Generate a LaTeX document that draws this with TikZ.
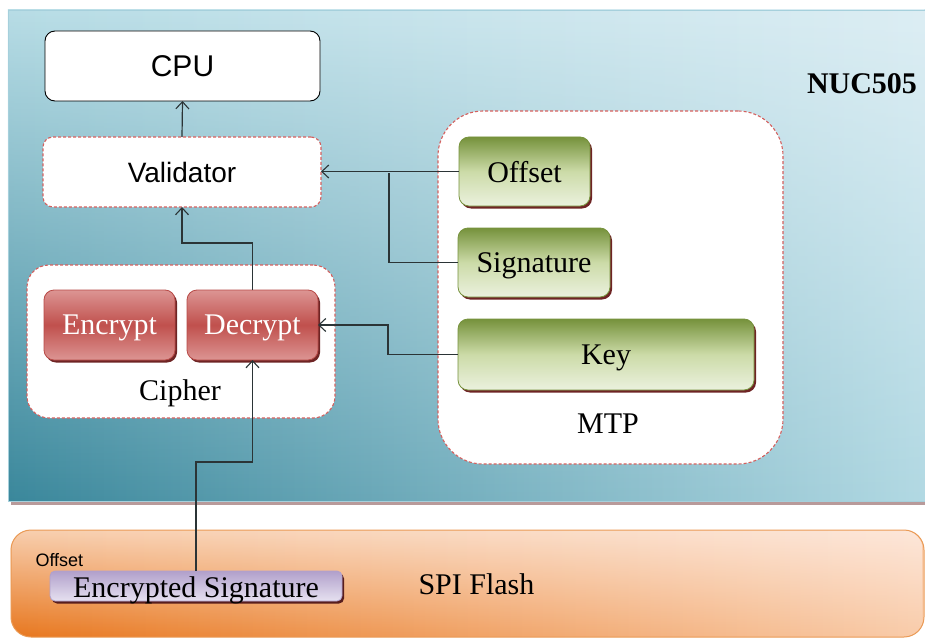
\documentclass[tikz,border=0pt]{standalone}
\usepackage{fontspec}
\setmainfont{Liberation Serif}
\newfontfamily\arialf{Liberation Sans}
\usetikzlibrary{shadows,arrows.meta,calc,fadings}
\definecolor{blueBL}{HTML}{3A879B}
\definecolor{blueBM}{HTML}{7DB8C9}
\definecolor{blueBR}{HTML}{B2D9E3}
\definecolor{blueTL}{HTML}{B8DDE6}
\definecolor{blueTR}{HTML}{DDEEF4}
\definecolor{blueedge}{HTML}{A6D0DC}
\definecolor{orBL}{HTML}{E8771E}
\definecolor{orBM}{HTML}{F5BE92}
\definecolor{orBR}{HTML}{F9CCAA}
\definecolor{orTL}{HTML}{F8CFAF}
\definecolor{orTR}{HTML}{FDE7DA}
\definecolor{oredge}{HTML}{EA9A55}
\definecolor{dashred}{HTML}{D4605E}
\definecolor{grdark}{HTML}{76923C}
\definecolor{grmid}{HTML}{CCDBA8}
\definecolor{grlight}{HTML}{EBF1DE}
\definecolor{rdlight}{HTML}{DC9593}
\definecolor{rddark}{HTML}{C0504D}
\definecolor{rdedge}{HTML}{B84A47}
\definecolor{pudark}{HTML}{B1A0CB}
\definecolor{pulight}{HTML}{E6E1F0}
\definecolor{shadowred}{HTML}{6E2424}
\definecolor{bgshadow}{HTML}{B89A9A}
\definecolor{linec}{HTML}{2B3436}
\tikzset{
  serif30/.style={font=\fontsize{30}{36}\selectfont},
  dashbox/.style={draw=dashred, dash pattern=on 3pt off 2pt, fill=white, line width=1.1pt, inner sep=0pt, outer sep=0pt},
  solidshadow/.style={general shadow={fill=shadowred, shadow xshift=2pt, shadow yshift=-2.5pt}},
  greenbox/.style={draw=grdark, line width=0.8pt, rounded corners=10pt, top color=grdark, bottom color=grlight, middle color=grmid, solidshadow, serif30, text=black, text depth=0pt, inner sep=0pt, outer sep=0pt, anchor=north west},
  redbox/.style={draw=rdedge, line width=0.8pt, rounded corners=10pt, top color=rdlight, bottom color=rdlight, middle color=rddark, solidshadow, serif30, text=white, text depth=0pt, inner sep=0pt, outer sep=0pt, anchor=north west, minimum width=131pt, minimum height=70pt},
  conn/.style={draw=linec, line width=1.2pt},
  arr/.style={conn, -{Straight Barb[length=7pt,width=13pt,line width=1.1pt]}},
}
\begin{document}
\begin{tikzpicture}[x=1pt,y=-1pt]
\useasboundingbox (0,0) rectangle (925,639);
% NUC505 background
\fill[bgshadow] (11,495) rectangle (925,505);
\shade[left color=blueBL, middle color=blueBM, right color=blueBR] (8,10) rectangle (925,501);
\shade[left color=blueTL, right color=blueTR, path fading=south] (8,10) rectangle (925,501);
\draw[blueedge, line width=0.8pt] (925,10) -- (8,10) -- (8,501) -- (925,501);
% SPI flash band
\shade[rounded corners=20pt, left color=orBL, middle color=orBM, right color=orBR] (11,530) rectangle (924,637);
\shade[rounded corners=20pt, left color=orTL, right color=orTR, path fading=south] (11,530) rectangle (924,637);
\draw[oredge, line width=1pt, rounded corners=20pt] (11,530) rectangle (924,637);
\node[font=\bfseries\fontsize{30}{36}\selectfont, anchor=base] (nuc) at (862,94) {NUC505};
% containers
\node[dashbox, rounded corners=22pt, minimum width=308pt, minimum height=153pt, anchor=north west] (cipher) at (27,265) {};
\node[dashbox, rounded corners=45pt, minimum width=345pt, minimum height=353pt, anchor=north west] (mtp) at (438,111) {};
\node[serif30, anchor=base] (ciphlbl) at (180,400) {Cipher};
\node[serif30, anchor=base] (mtplbl) at (608,433) {MTP};
% CPU and validator
\node[draw=black, line width=0.9pt, fill=white, rounded corners=10pt, minimum width=275pt, minimum height=70pt, inner sep=0pt, outer sep=0pt, anchor=north west, font=\arialf\fontsize{30}{36}\selectfont] (cpu) at (45,31) {CPU};
\node[dashbox, rounded corners=10pt, minimum width=278pt, minimum height=70pt, anchor=north west, font=\arialf\fontsize{28}{34}\selectfont] (validator) at (43,137) {Validator};
% cipher blocks
\node[redbox] (encrypt) at (44,290) {Encrypt};
\node[redbox] (decrypt) at (187,290) {Decrypt};
% MTP fields
\node[greenbox, minimum width=131pt, minimum height=69pt] (offset) at (459,137) {Offset};
\node[greenbox, minimum width=152pt, minimum height=69pt] (signature) at (458,228) {Signature};
\node[greenbox, minimum width=296pt, minimum height=71pt] (key) at (458,319) {Key};
% SPI flash contents
\node[draw=pudark, line width=0.8pt, rounded corners=5pt, top color=pudark, bottom color=pulight, general shadow={fill=shadowred!80!black, shadow xshift=2pt, shadow yshift=-2.5pt}, minimum width=292pt, minimum height=30pt, inner sep=0pt, outer sep=0pt, anchor=north west] (esig) at (50,571) {};
\node[serif30, anchor=base] (esiglbl) at (196,597) {Encrypted Signature};
\node[font=\arialf\fontsize{18}{22}\selectfont, anchor=base west] (offlbl) at (32,566.5) {Offset};
\node[serif30, anchor=base west] (spi) at (415,594) {SPI Flash};
% connectors
\coordinate (j1) at (389,173);
\coordinate (j2) at (388,325);
\coordinate (j3) at (200,243);
\coordinate (j4) at (230,462);
\draw[arr] (validator.north) -- (cpu.south);
\draw[arr] (offset.west) -- (validator.east |- offset.west);
\draw[conn] (signature.west) -| (j1);
\draw[arr] (key.west) -| (j2) -- (decrypt.east);
\draw[arr] (decrypt.north) |- (j3) -| (validator.south);
\draw[arr] (esig.north) |- (j4) -| (decrypt.south);
\end{tikzpicture}
\end{document}
